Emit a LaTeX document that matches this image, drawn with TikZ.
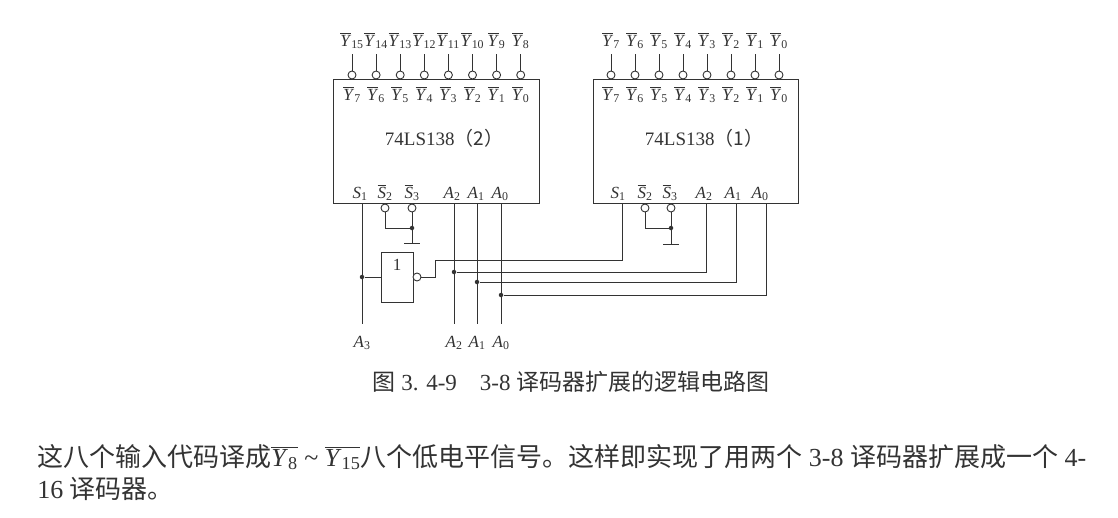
\documentclass[tikz,border=0pt]{standalone}
\usepackage{fontspec}
\setmainfont{Liberation Serif}
\newfontfamily\cjk{Noto Sans CJK SC}
\usetikzlibrary{positioning, calc}
\newcommand\lowsig[2]{$\overline{\hbox{\textit{#1}}}$\textsubscript{#2}}
\newcommand\hisig[2]{\textit{#1}\textsubscript{#2}}
\tikzset{
  chip/.style={draw, anchor=north west, minimum height=124pt, inner sep=0pt},
  bub/.style={draw, circle, fill=white, minimum size=8pt, inner sep=0pt},
  jdot/.style={circle, fill, minimum size=4.5pt, inner sep=0pt},
  pinlab/.style={anchor=base, inner sep=0pt, font=\fontsize{17}{19}\selectfont},
  chipname/.style={anchor=base, font=\fontsize{19}{21}\selectfont}
}

\begin{document}
\begin{tikzpicture}[x=1pt, y=-1pt, line width=0.9pt, color=black!80]
    \useasboundingbox (0,0) rectangle (1118,517);

    \node[chip, minimum width=206pt] (U2) at (333,79) {};
    \node[chip, minimum width=205pt] (U1) at (593,79) {};
    \node[chipname] (U2name) at (444,145) {74LS138{\cjk （2）}};
    \node[chipname] (U1name) at (704,145) {74LS138{\cjk （1）}};

    \foreach \k [count=\i from 0] in {7,6,...,0} {
        \pgfmathtruncatemacro\hk{\k+8}
        \node[bub] (U2b\k) at ({352+24.1*\i},75) {};
        \node[pinlab] (U2y\k) at ({352+24.1*\i},100) {\lowsig{Y}{\k}};
        \node[pinlab] (Y\hk) at ({352+24.1*\i},46) {\lowsig{Y}{\hk}};
        \draw[shorten >=5pt] (U2b\k) -- (Y\hk);
        \node[bub] (U1b\k) at ({611+24*\i},75) {};
        \node[pinlab] (U1y\k) at ({611+24*\i},100) {\lowsig{Y}{\k}};
        \node[pinlab] (Y\k) at ({611+24*\i},46) {\lowsig{Y}{\k}};
        \draw[shorten >=5pt] (U1b\k) -- (Y\k);
    }

    \foreach \n/\x/\t in {s1/360/\hisig{S}{1}, s2/385/\lowsig{S}{2}, s3/412/\lowsig{S}{3}, a2/452/\hisig{A}{2}, a1/476/\hisig{A}{1}, a0/500/\hisig{A}{0}}
        \node[pinlab] (U2l\n) at (\x,198) {\t};
    \foreach \n/\x/\t in {s1/618/\hisig{S}{1}, s2/645/\lowsig{S}{2}, s3/670/\lowsig{S}{3}, a2/704/\hisig{A}{2}, a1/733/\hisig{A}{1}, a0/760/\hisig{A}{0}}
        \node[pinlab] (U1l\n) at (\x,198) {\t};

    \coordinate (U2s1) at (362,203);
    \coordinate (U2a2) at (454,203);
    \coordinate (U2a1) at (477,203);
    \coordinate (U2a0) at (501,203);
    \coordinate (U1s1) at (622,203);
    \coordinate (U1a2) at (706,203);
    \coordinate (U1a1) at (736,203);
    \coordinate (U1a0) at (766,203);

    \node[bub] (U2s2) at (385,208) {};
    \node[bub] (U2s3) at (412,208) {};
    \node[bub] (U1s2) at (645,208) {};
    \node[bub] (U1s3) at (671,208) {};

    \coordinate (U2j) at (412,228);
    \coordinate (U2g) at (412,243);
    \coordinate (U1j) at (671,228);
    \coordinate (U1g) at (671,244);
    \draw (U2s2) |- (U2j);
    \draw (U2s3) -- (U2g);
    \draw ($(U2g)+(-8,0)$) -- ($(U2g)+(8,0)$);
    \node[jdot] (U2jd) at (U2j) {};
    \draw (U1s2) |- (U1j);
    \draw (U1s3) -- (U1g);
    \draw ($(U1g)+(-8,0)$) -- ($(U1g)+(8,0)$);
    \node[jdot] (U1jd) at (U1j) {};

    \node[draw, minimum width=32pt, minimum height=50pt, inner sep=0pt] (G) at (397,277) {};
    \node[font=\fontsize{17}{19}\selectfont] (Gt) at (397,265) {1};
    \node[bub] (Gb) at (417,277) {};

    \node[pinlab] (A3) at (362,347) {\hisig{A}{3}};
    \node[pinlab] (A2) at (454,347) {\hisig{A}{2}};
    \node[pinlab] (A1) at (477,347) {\hisig{A}{1}};
    \node[pinlab] (A0) at (501,347) {\hisig{A}{0}};

    \node[jdot] (d3) at (362,277) {};
    \node[jdot] (d2) at (454,272) {};
    \node[jdot] (d1) at (477,282) {};
    \node[jdot] (d0) at (501,295) {};

    \coordinate (k0) at (435,277);
    \coordinate (k1) at (435,260);
    \draw[shorten >=11pt] (U2s1) -- (A3);
    \draw (d3) -- (G);
    \draw (Gb) -- (k0) -- (k1) -| (U1s1);
    \draw[shorten >=11pt] (U2a2) -- (A2);
    \draw[shorten >=11pt] (U2a1) -- (A1);
    \draw[shorten >=11pt] (U2a0) -- (A0);
    \draw (d2) -| (U1a2);
    \draw (d1) -| (U1a1);
    \draw (d0) -| (U1a0);

    \node[anchor=base, font=\fontsize{23}{26}\selectfont] (cap) at (571,390)
        {{\cjk 图} 3. 4-9\quad 3-8 {\cjk 译码器扩展的逻辑电路图}};
    \node[anchor=base west, inner sep=0pt, font=\fontsize{26}{30}\selectfont] (p1) at (37,466)
        {{\cjk 这八个输入代码译成}$\overline{\hbox{\hisig{Y}{8}}}$ \textasciitilde\ $\overline{\hbox{\hisig{Y}{15}}}${\cjk 八个低电平信号。这样即实现了用两个} 3-8 {\cjk 译码器扩展成一个} 4-};
    \node[anchor=base west, inner sep=0pt, font=\fontsize{26}{30}\selectfont] (p2) at (37,498)
        {16 {\cjk 译码器。}};
\end{tikzpicture}
\end{document}
